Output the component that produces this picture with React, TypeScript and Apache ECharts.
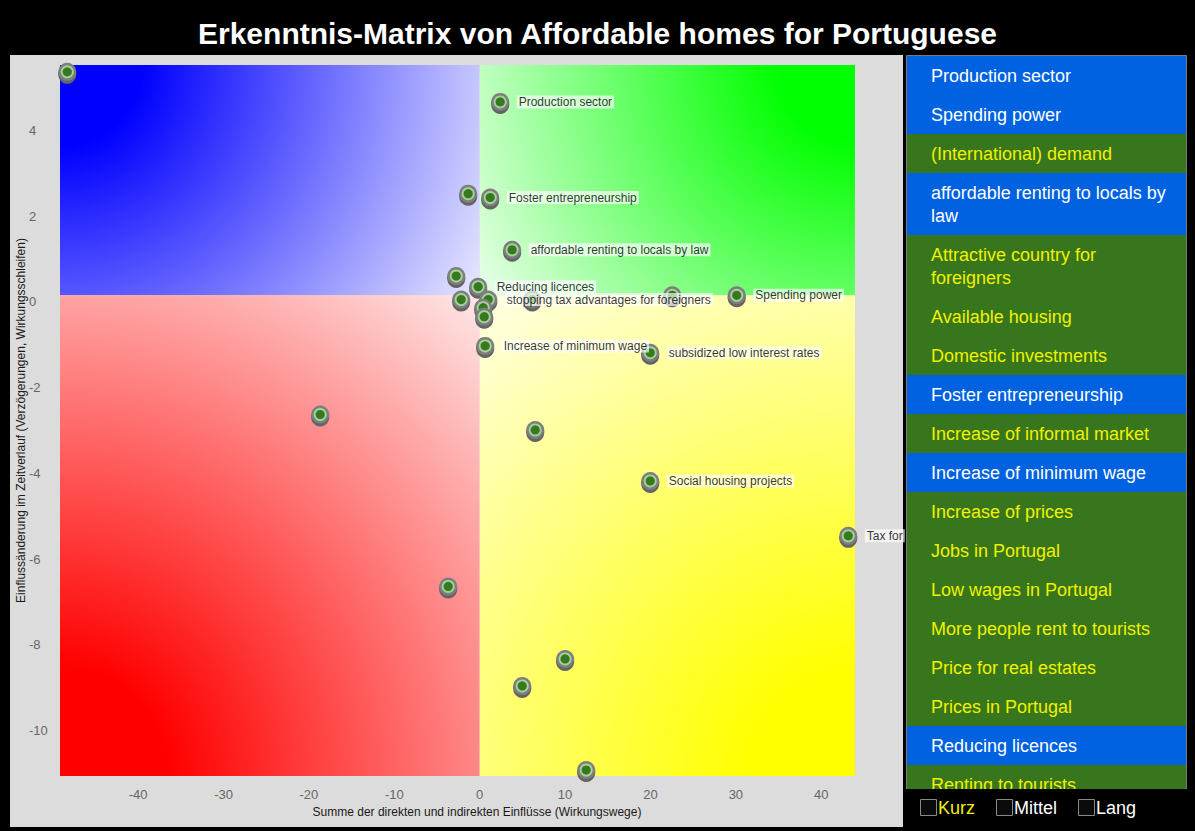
import React, { useEffect, useRef } from 'react';
import * as echarts from 'echarts';

const FONT = '"Liberation Sans", Arial, Helvetica, sans-serif';

const TITLE = 'Erkenntnis-Matrix von Affordable homes for Portuguese';
const X_NAME = 'Summe der direkten und indirekten Einflüsse (Wirkungswege)';
const Y_NAME = 'Einflussänderung im Zeitverlauf (Verzögerungen, Wirkungsschleifen)';

const X_MIN = -49.15;
const X_MAX = 43.95;
const Y_MIN = -11.21;
const Y_MAX = 5.37;
const X_TICKS = [-40, -30, -20, -10, 0, 10, 20, 30, 40];
const Y_TICKS = [-10, -8, -6, -4, -2, 0, 2, 4];
const X_SPLIT = 0;
const Y_SPLIT = 0;

const pointX = [-48.3, 2.4, -1.35, 1.23, 3.8, -2.75, -0.18, -2.17, 1.0, 0.41, 0.53, 0.64, 6.15, 22.55, 30.1, 19.97, -18.68, 6.5, 19.97, 43.16, -3.69, 10.0, 4.98, 12.47];
const pointY = [5.21, 4.51, 2.37, 2.28, 1.06, 0.45, 0.2, -0.1, -0.1, -0.29, -0.5, -1.18, -0.1, 0.0, 0.0, -1.34, -2.78, -3.14, -4.33, -5.61, -6.79, -8.48, -9.11, -11.07];
const pointLabel = ['', 'Production sector', '', 'Foster entrepreneurship', 'affordable renting to locals by law', '', 'Reducing licences', '', 'stopping tax advantages for foreigners', '', '', 'Increase of minimum wage', '', '', 'Spending power', 'subsidized low interest rates', '', '', 'Social housing projects', 'Tax for', '', '', '', ''];

const factorNames = [
  'Production sector', 'Spending power', '(International) demand', 'affordable renting to locals by law',
  'Attractive country for foreigners', 'Available housing', 'Domestic investments', 'Foster entrepreneurship',
  'Increase of informal market', 'Increase of minimum wage', 'Increase of prices', 'Jobs in Portugal',
  'Low wages in Portugal', 'More people rent to tourists', 'Price for real estates', 'Prices in Portugal',
  'Reducing licences', 'Renting to tourists',
];
const factorActive = [true, true, false, true, false, false, false, true, false, true, false, false, false, false, false, false, true, false];

const horizonNames = ['Kurz', 'Mittel', 'Lang'];
const horizonHighlighted = [true, false, false];

const QUADS = [
  { x0: X_MIN, y0: Y_MAX, deep: '#0000ff', pale: '#e9e9ff', cx: X_MIN, cy: Y_MAX },
  { x0: X_MAX, y0: Y_MAX, deep: '#00ff00', pale: '#ebffeb', cx: X_MAX, cy: Y_MAX },
  { x0: X_MIN, y0: Y_MIN, deep: '#ff0000', pale: '#ffe8e8', cx: X_MIN, cy: Y_MIN },
  { x0: X_MAX, y0: Y_MIN, deep: '#ffff00', pale: '#ffffe6', cx: X_MAX, cy: Y_MIN },
];

function measure(text: string, font: string): number {
  const ctx = document.createElement('canvas').getContext('2d')!;
  ctx.font = font;
  return ctx.measureText(text).width;
}

function wrap(text: string, maxW: number, font: string): string[] {
  const words = text.split(' ');
  const lines: string[] = [];
  let cur = '';
  for (const w of words) {
    const t = cur ? cur + ' ' + w : w;
    if (cur && measure(t, font) > maxW) {
      lines.push(cur);
      cur = w;
    } else cur = t;
  }
  if (cur) lines.push(cur);
  return lines;
}

function buildGraphics() {
  const els: any[] = [];
  els.push({ type: 'rect', z: 0, silent: true, shape: { x: 10, y: 55, width: 893, height: 772 }, style: { fill: '#dcdcdc' } });
  const itemFont = `18px ${FONT}`;
  let y = 56;
  factorNames.forEach((name, i) => {
    const lines = wrap(name, 250, itemFont);
    const h = 39 + 23 * (lines.length - 1);
    const active = factorActive[i];
    els.push({ type: 'rect', z: 10, silent: true, shape: { x: 907, y, width: 279, height: h }, style: { fill: active ? '#0062e1' : '#38761d' } });
    els.push({
      type: 'text', z: 11, silent: true, x: 931, y: y + h / 2,
      style: { text: lines.join('\n'), fill: active ? '#ffffff' : '#f0f000', fontSize: 18, fontFamily: FONT, lineHeight: 23, align: 'left', verticalAlign: 'middle' },
    });
    y += h;
  });
  els.push({ type: 'rect', z: 12, silent: true, shape: { x: 906.5, y: 55.5, width: 280, height: 740 }, style: { fill: 'none', stroke: '#7a7a7a', lineWidth: 1 } });
  els.push({ type: 'rect', z: 13, silent: true, shape: { x: 904, y: 789, width: 291, height: 42 }, style: { fill: '#000' } });
  let x = 920;
  horizonNames.forEach((name, i) => {
    els.push({ type: 'rect', z: 14, silent: true, shape: { x: x + 0.5, y: 799.5, width: 16, height: 16 }, style: { fill: '#0b0b0b', stroke: '#8a8a8a', lineWidth: 1 } });
    els.push({
      type: 'text', z: 14, silent: true, x: x + 18, y: 808,
      style: { text: name, fill: horizonHighlighted[i] ? '#f0f000' : '#ffffff', fontSize: 18, fontFamily: FONT, align: 'left', verticalAlign: 'middle' },
    });
    x += 18 + measure(name, `18px ${FONT}`) + 21;
  });
  return els;
}

function buildOption(grads: any[] | null) {
  const pts = pointX.map((v, i) => [v, pointY[i]]);
  const areas = QUADS.map((q, i) => [
    { xAxis: q.x0, yAxis: q.y0, itemStyle: { color: grads ? grads[i] : q.deep, opacity: 1 } },
    { xAxis: X_SPLIT, yAxis: Y_SPLIT },
  ]);
  return {
    animation: false,
    backgroundColor: '#000',
    textStyle: { fontFamily: FONT },
    title: {
      text: TITLE, left: 'center', top: 18, padding: 0,
      textStyle: { color: '#fff', fontSize: 30, fontWeight: 'bold', fontFamily: FONT },
    },
    grid: { left: 60, top: 65, width: 795, height: 711, containLabel: false },
    xAxis: {
      type: 'value', min: X_MIN, max: X_MAX,
      name: X_NAME, nameLocation: 'middle', nameGap: 30, nameMoveOverlap: false,
      nameTextStyle: { color: '#1a1a1a', fontSize: 12, fontFamily: FONT, padding: [0, 0, 0, 39] },
      axisLine: { show: false }, axisTick: { show: false }, splitLine: { show: false },
      axisLabel: { customValues: X_TICKS, margin: 12, color: '#666', fontSize: 13, fontFamily: FONT },
    },
    yAxis: {
      type: 'value', min: Y_MIN, max: Y_MAX,
      name: Y_NAME, nameLocation: 'middle', nameGap: 33, nameMoveOverlap: false,
      nameTextStyle: { color: '#1a1a1a', fontSize: 12, fontFamily: FONT },
      axisLine: { show: false }, axisTick: { show: false }, splitLine: { show: false },
      axisLabel: { customValues: Y_TICKS, margin: 31, align: 'left', verticalAlign: 'top', color: '#666', fontSize: 13, fontFamily: FONT },
    },
    graphic: { elements: buildGraphics() },
    series: [
      {
        id: 'quadrants', type: 'scatter', z: 1, silent: true, symbolSize: 0, data: pts,
        itemStyle: { color: 'rgba(0,0,0,0)' },
        markArea: { silent: true, label: { show: false }, data: areas },
      },
      {
        id: 'markers', type: 'custom', z: 2, silent: true, coordinateSystem: 'cartesian2d',
        encode: { x: 0, y: 1 }, data: pts,
        renderItem: (_params: any, api: any) => {
          const c = api.coord([api.value(0), api.value(1)]);
          const cx = c[0];
          const cy = c[1];
          return {
            type: 'group',
            children: [
              { type: 'circle', shape: { cx, cy: cy + 3, r: 9 }, style: { fill: '#646464' } },
              { type: 'rect', shape: { x: cx - 9, y: cy, width: 18, height: 3 }, style: { fill: '#646464' } },
              { type: 'circle', shape: { cx, cy, r: 9 }, style: { fill: '#7e7e7e' } },
              { type: 'circle', shape: { cx, cy, r: 6.5 }, style: { fill: '#a3d39b' } },
              { type: 'circle', shape: { cx, cy, r: 4.6 }, style: { fill: '#37791f' } },
            ],
          };
        },
      },
      {
        id: 'labels', type: 'scatter', z: 3, silent: true, symbolSize: 1,
        itemStyle: { color: 'rgba(0,0,0,0)' },
        data: pts.map((p, i) => ({ value: p, name: pointLabel[i], label: { show: pointLabel[i] !== '' } })),
        label: {
          position: 'right', distance: 16, formatter: (p: any) => p.name,
          color: '#000', fontSize: 12, fontFamily: FONT,
          backgroundColor: 'rgba(255,255,255,0.82)', padding: [1, 2, 0, 2],
        },
      },
    ],
  };
}

export default function App() {
  const ref = useRef<HTMLDivElement>(null);
  useEffect(() => {
    const chart = echarts.init(ref.current!, null, { renderer: 'svg' });
    chart.setOption(buildOption(null) as any);
    const px = (x: number, y: number) => chart.convertToPixel({ gridIndex: 0 }, [x, y]) as number[];
    const o = px(X_SPLIT, Y_SPLIT);
    const grads = QUADS.map((q) => {
      const c = px(q.cx, q.cy);
      const r = Math.hypot(c[0] - o[0], c[1] - o[1]);
      return new echarts.graphic.RadialGradient(c[0], c[1], r, [
        { offset: 0, color: q.deep },
        { offset: 0.17, color: q.deep },
        { offset: 1, color: q.pale },
      ], true);
    });
    chart.setOption(buildOption(grads) as any);
    return () => chart.dispose();
  }, []);
  return (
    <div style={{ position: 'fixed', left: 0, top: 0, width: 1195, height: 831, background: '#000' }}>
      <div ref={ref} style={{ width: 1195, height: 831 }} />
    </div>
  );
}
